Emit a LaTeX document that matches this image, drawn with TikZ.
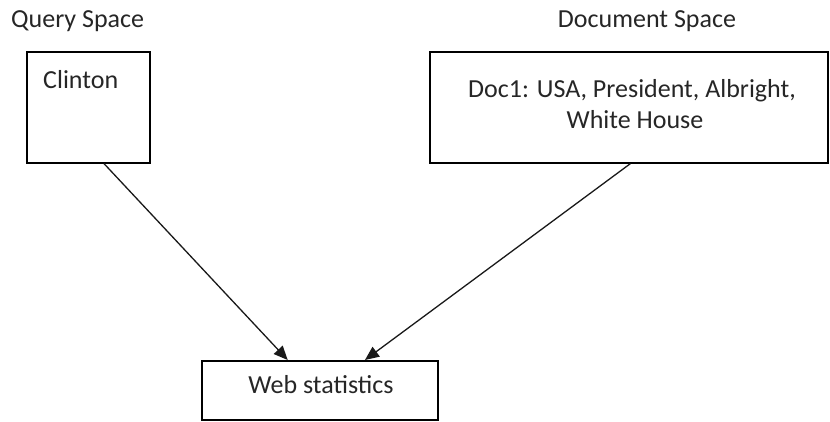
\documentclass[tikz,border=0pt]{standalone}
\usepackage{fontspec}
\setmainfont{Carlito}
\usetikzlibrary{arrows.meta,calc}

\tikzset{
  lbl/.style={inner sep=0pt, font=\fontsize{26}{31}\selectfont, text=black!85},
  frame/.style={draw=black, line width=1.6pt, inner sep=0pt},
  link/.style={draw=black!90, line width=1.3pt,
    -{Triangle[length=14pt, width=12pt]}}
}

\begin{document}
\begin{tikzpicture}[x=1pt, y=-1pt]
  \useasboundingbox (0,0) rectangle (830,421);

  % headings
  \node[lbl, anchor=base west] (qhead) at (11,27) {Query Space};
  \node[lbl, anchor=base] (dhead) at (647,27) {Document Space};

  % query box
  \node[frame, minimum width=123pt, minimum height=111pt, anchor=north west] (qbox) at (26,51) {};
  \node[lbl, anchor=base west] (qtext) at (43,88) {Clinton};

  % document box
  \node[frame, minimum width=398pt, minimum height=111pt, anchor=north west] (dbox) at (429,51) {};
  \node[lbl, anchor=base] (dline1) at (632,97) {Doc1: USA, President, Albright,};
  \node[lbl, anchor=base] (dline2) at (635,128) {White House};

  % web statistics box
  \node[frame, minimum width=236pt, minimum height=59pt, anchor=north west] (wbox) at (201,360) {};
  \node[lbl, anchor=base] (wtext) at (321,393) {Web statistics};

  % connectors
  \draw[link] ($(qbox.south west)!0.626!(qbox.south east)$) -- ($(wbox.north west)!0.365!(wbox.north east)$);
  \draw[link] ($(dbox.south west)!0.504!(dbox.south east)$) -- ($(wbox.north west)!0.69!(wbox.north east)$);
\end{tikzpicture}
\end{document}
